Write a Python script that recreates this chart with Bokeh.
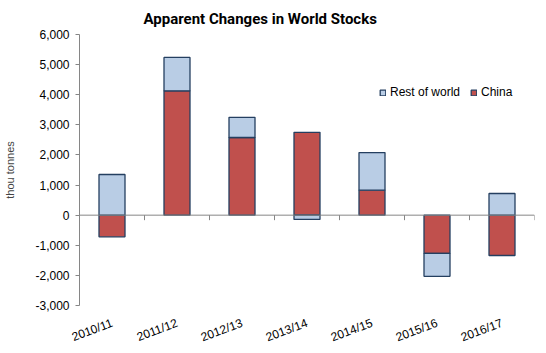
from bokeh.plotting import figure
from bokeh.models import (Range1d, FixedTicker, NumeralTickFormatter,
                          ColumnDataSource, Legend, LegendItem, Span)
from bokeh.embed import file_html
from bokeh.resources import INLINE

categories = ["2010/11", "2011/12", "2012/13", "2013/14", "2014/15", "2015/16", "2016/17"]
china = [-720, 4130, 2580, 2750, 830, -1270, -1340]
rest_of_world = [1350, 1110, 670, -140, 1250, -760, 720]
y_ticks = [-3000, -2000, -1000, 0, 1000, 2000, 3000, 4000, 5000, 6000]
title_text = "Apparent Changes in World Stocks"

Y_MIN, Y_MAX = -3000, 6000
FRAME_H = 271          # frame height in px (layout)
TICK_PX = 5            # category tick length in px (style)

xs = [i + 0.5 for i in range(len(categories))]
bounds = list(range(len(categories) + 1))
china_bottom = [0] * len(china)
china_top = list(china)
row_bottom = [c if (c >= 0) == (r >= 0) else 0 for c, r in zip(china, rest_of_world)]
row_top = [b + r for b, r in zip(row_bottom, rest_of_world)]

src = ColumnDataSource(dict(x=xs, cb=china_bottom, ct=china_top, rb=row_bottom, rt=row_top))

FONT = "Liberation Sans"
p = figure(width=546, height=353, output_backend="svg", toolbar_location=None,
           x_range=Range1d(0, len(categories)), y_range=Range1d(Y_MIN, Y_MAX),
           min_border_left=79, min_border_right=12, min_border_bottom=47, min_border_top=0)
p.outline_line_color = None
p.xgrid.visible = False
p.ygrid.visible = False

p.title.text = title_text
p.title.align = "left"
p.title.offset = 64
p.title.standoff = 14
p.title.text_font = "Roboto"
p.title.text_font_style = "bold"
p.title.text_font_size = "15px"
p.title.text_color = "#000000"

OUT = "#243F60"
r_china = p.vbar(x="x", bottom="cb", top="ct", width=0.4, source=src,
                 fill_color="#C0504D", line_color=OUT, line_width=1.3)
r_row = p.vbar(x="x", bottom="rb", top="rt", width=0.4, source=src,
               fill_color="#B9CDE5", line_color=OUT, line_width=1.3)

# zero line with category boundary ticks
p.add_layout(Span(location=0, dimension="width", line_color="#868686", line_width=1))
tick_len = TICK_PX * (Y_MAX - Y_MIN) / FRAME_H
p.segment(x0=bounds, y0=[0] * len(bounds), x1=bounds, y1=[-tick_len] * len(bounds),
          line_color="#868686", line_width=1)

# y axis
ya = p.yaxis[0]
ya.ticker = FixedTicker(ticks=y_ticks)
ya.formatter = NumeralTickFormatter(format="0,0")
ya.axis_line_color = "#868686"
ya.major_tick_line_color = "#868686"
ya.major_tick_out = 4
ya.major_tick_in = 0
ya.minor_tick_line_color = None
ya.major_label_text_font = FONT
ya.major_label_text_font_size = "12px"
ya.major_label_text_color = "#000000"
ya.major_label_standoff = 6
ya.axis_label = "thou tonnes"
ya.axis_label_text_font = FONT
ya.axis_label_text_font_size = "11px"
ya.axis_label_text_font_style = "normal"
ya.axis_label_standoff = 16

# bottom category labels
xa = p.xaxis[0]
xa.ticker = FixedTicker(ticks=xs)
xa.major_label_overrides = {x: c for x, c in zip(xs, categories)}
xa.axis_line_color = None
xa.major_tick_line_color = None
xa.minor_tick_line_color = None
xa.major_tick_out = 0
xa.major_tick_in = 0
xa.major_label_orientation = 0.36
xa.major_label_standoff = 17
xa.major_label_text_font = FONT
xa.major_label_text_font_size = "12px"
xa.major_label_text_color = "#000000"

legend = Legend(items=[LegendItem(label="Rest of world", renderers=[r_row]),
                       LegendItem(label="China", renderers=[r_china])],
                orientation="horizontal", location=(300, 206),
                glyph_width=7, glyph_height=7, label_height=12, label_standoff=4,
                spacing=10, padding=0, margin=0, border_line_color=None,
                background_fill_alpha=0, label_text_font=FONT,
                label_text_font_size="12px", label_text_color="#000000")
p.add_layout(legend)

open("out.html", "w").write(file_html(p, INLINE))
